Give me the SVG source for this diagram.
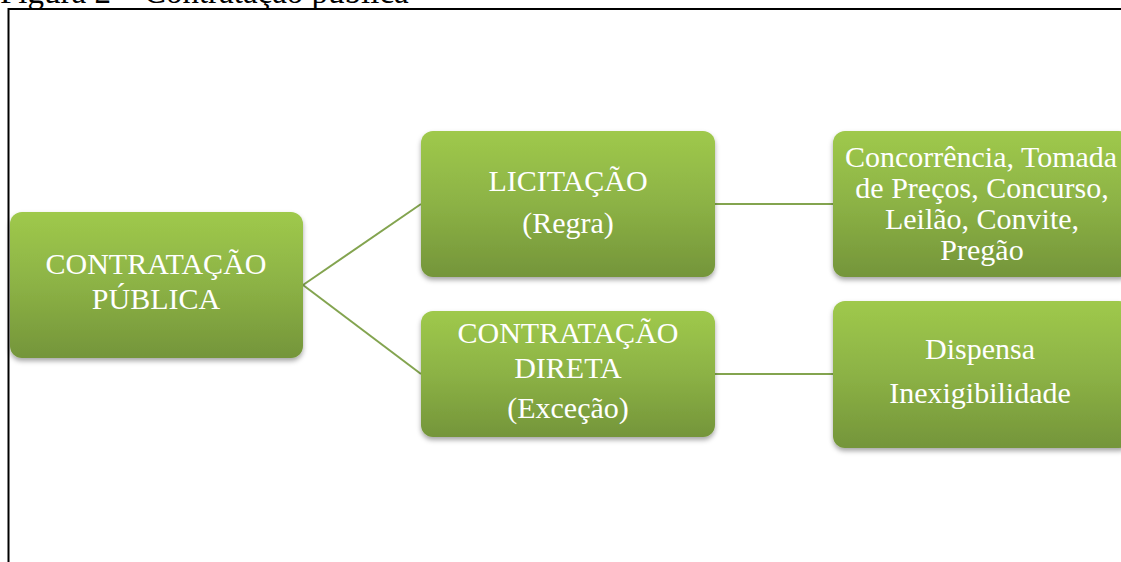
<svg xmlns="http://www.w3.org/2000/svg" width="1121" height="562" viewBox="0 0 1121 562">
<defs>
<linearGradient id="g" x1="0" y1="0" x2="0" y2="1">
<stop offset="0" stop-color="#9fc94c"/>
<stop offset="0.5" stop-color="#8cb245"/>
<stop offset="1" stop-color="#74953a"/>
</linearGradient>
<filter id="sh" x="-10%" y="-10%" width="120%" height="130%">
<feDropShadow dx="0" dy="3" stdDeviation="2.5" flood-color="#000" flood-opacity="0.35"/>
</filter>
<style>
.box{fill:url(#g);filter:url(#sh)}
.t{font-family:"Liberation Serif","Times New Roman",serif;font-size:30px;fill:#fff;text-anchor:middle}
.c{fill:none;stroke:#83a44f;stroke-width:2}
.cap{font-family:"Liberation Serif","Times New Roman",serif;font-size:33px;fill:#000}
</style>
</defs>
<rect width="1121" height="562" fill="#fff"/>
<text class="cap" x="0" y="3">Figura 2 – Contratação pública</text>
<path d="M8.5 562 V9 H1121" fill="none" stroke="#000" stroke-width="2"/>
<g id="connectors">
<line class="c" x1="303" y1="285" x2="421" y2="204"/>
<line class="c" x1="303" y1="285" x2="421" y2="374"/>
<line class="c" x1="715" y1="204" x2="833" y2="204"/>
<line class="c" x1="715" y1="374" x2="833" y2="374"/>
</g>
<g id="n1">
<rect class="box" x="10" y="212" width="293" height="146" rx="12"/>
<text class="t" x="156" y="274">CONTRATAÇÃO</text>
<text class="t" x="156" y="309">PÚBLICA</text>
</g>
<g id="n2">
<rect class="box" x="421" y="131" width="294" height="146" rx="12"/>
<text class="t" x="568" y="191">LICITAÇÃO</text>
<text class="t" x="568" y="233">(Regra)</text>
</g>
<g id="n3">
<rect class="box" x="421" y="311" width="294" height="126" rx="12"/>
<text class="t" x="568" y="343">CONTRATAÇÃO</text>
<text class="t" x="568" y="378">DIRETA</text>
<text class="t" x="568" y="418">(Exceção)</text>
</g>
<g id="n4">
<rect class="box" x="833" y="131" width="298" height="146" rx="12"/>
<text class="t" x="981" y="167">Concorrência, Tomada</text>
<text class="t" x="982" y="198">de Preços, Concurso,</text>
<text class="t" x="982" y="229">Leilão, Convite,</text>
<text class="t" x="982" y="260">Pregão</text>
</g>
<g id="n5">
<rect class="box" x="833" y="301" width="298" height="147" rx="12"/>
<text class="t" x="980" y="359">Dispensa</text>
<text class="t" x="980" y="403">Inexigibilidade</text>
</g>
</svg>
